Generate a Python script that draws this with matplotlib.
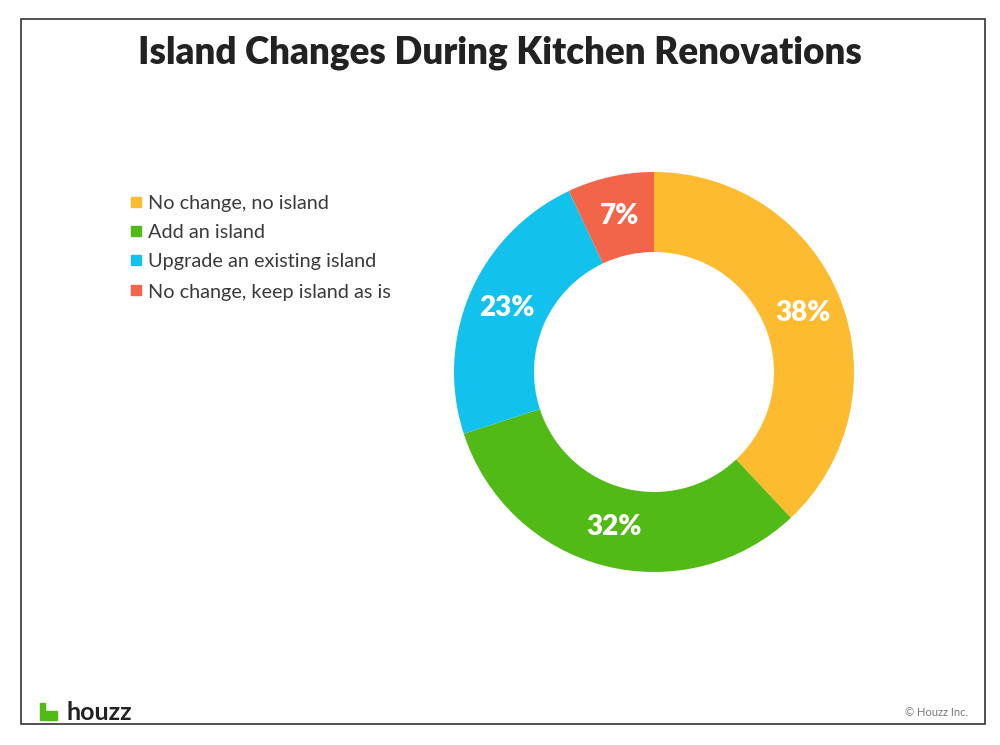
import numpy as np
import matplotlib.pyplot as plt
from matplotlib.patches import Rectangle

labels = ['No change, no island', 'Add an island', 'Upgrade an existing island', 'No change, keep island as is']
values = [38, 32, 23, 7]
colors = ['#FDBB2F', '#52BA17', '#12C1EC', '#F26549']

plt.rcParams['font.family'] = ['Lato', 'DejaVu Sans']

fig = plt.figure(figsize=(10, 7.45), dpi=100)
fig.patch.set_facecolor('white')

# frame around the chart
fig.add_artist(Rectangle((0.021, 1 - 724 / 745), 0.964, (724 - 19) / 745,
                         transform=fig.transFigure, fill=False, edgecolor='#333333', linewidth=1.2))

fig.text(0.5, 1 - 53 / 745, 'Island Changes During Kitchen Renovations',
         ha='center', va='center', fontsize=26.5, fontweight='heavy', color='#222222')

# donut
ax = fig.add_axes([0.454, 1 - 572 / 745, 0.4, 400 / 745])
wedges, _ = ax.pie(values, colors=colors, startangle=90, counterclock=False,
                   radius=1.0, wedgeprops=dict(width=0.4, edgecolor='none'))
ax.set_xlim(-1, 1)
ax.set_ylim(-1, 1)
ax.set_aspect('equal')
for w, v in zip(wedges, values):
    ang = np.deg2rad((w.theta1 + w.theta2) / 2)
    ax.text(0.8 * np.cos(ang), 0.8 * np.sin(ang), f'{v}%', ha='center', va='center',
            color='white', fontsize=20, fontweight='heavy')

# legend
rows_y = [202, 231, 260, 290]
for lab, c, y in zip(labels, colors, rows_y):
    fig.add_artist(Rectangle((131 / 1000, 1 - (y + 5) / 745), 10 / 1000, 10 / 745,
                             transform=fig.transFigure, color=c))
    fig.text(148 / 1000, 1 - (y + 2) / 745, lab, ha='left', va='center', fontsize=14.3,
             color='#3a3a3a')

# footer
fig.add_artist(Rectangle((40 / 1000, 1 - 720 / 745), 5 / 1000, 17 / 745,
                         transform=fig.transFigure, color='#52BA17'))
fig.add_artist(Rectangle((45 / 1000, 1 - 720 / 745), 12 / 1000, 9 / 745,
                         transform=fig.transFigure, color='#52BA17'))
fig.text(67 / 1000, 1 - 712 / 745, 'houzz', ha='left', va='center', fontsize=18,
         fontweight='bold', color='#222222')
fig.text(968 / 1000, 1 - 713 / 745, '\u00a9 Houzz Inc.', ha='right', va='center',
         fontsize=8, color='#777777')

fig.savefig('out.png', dpi=100)
